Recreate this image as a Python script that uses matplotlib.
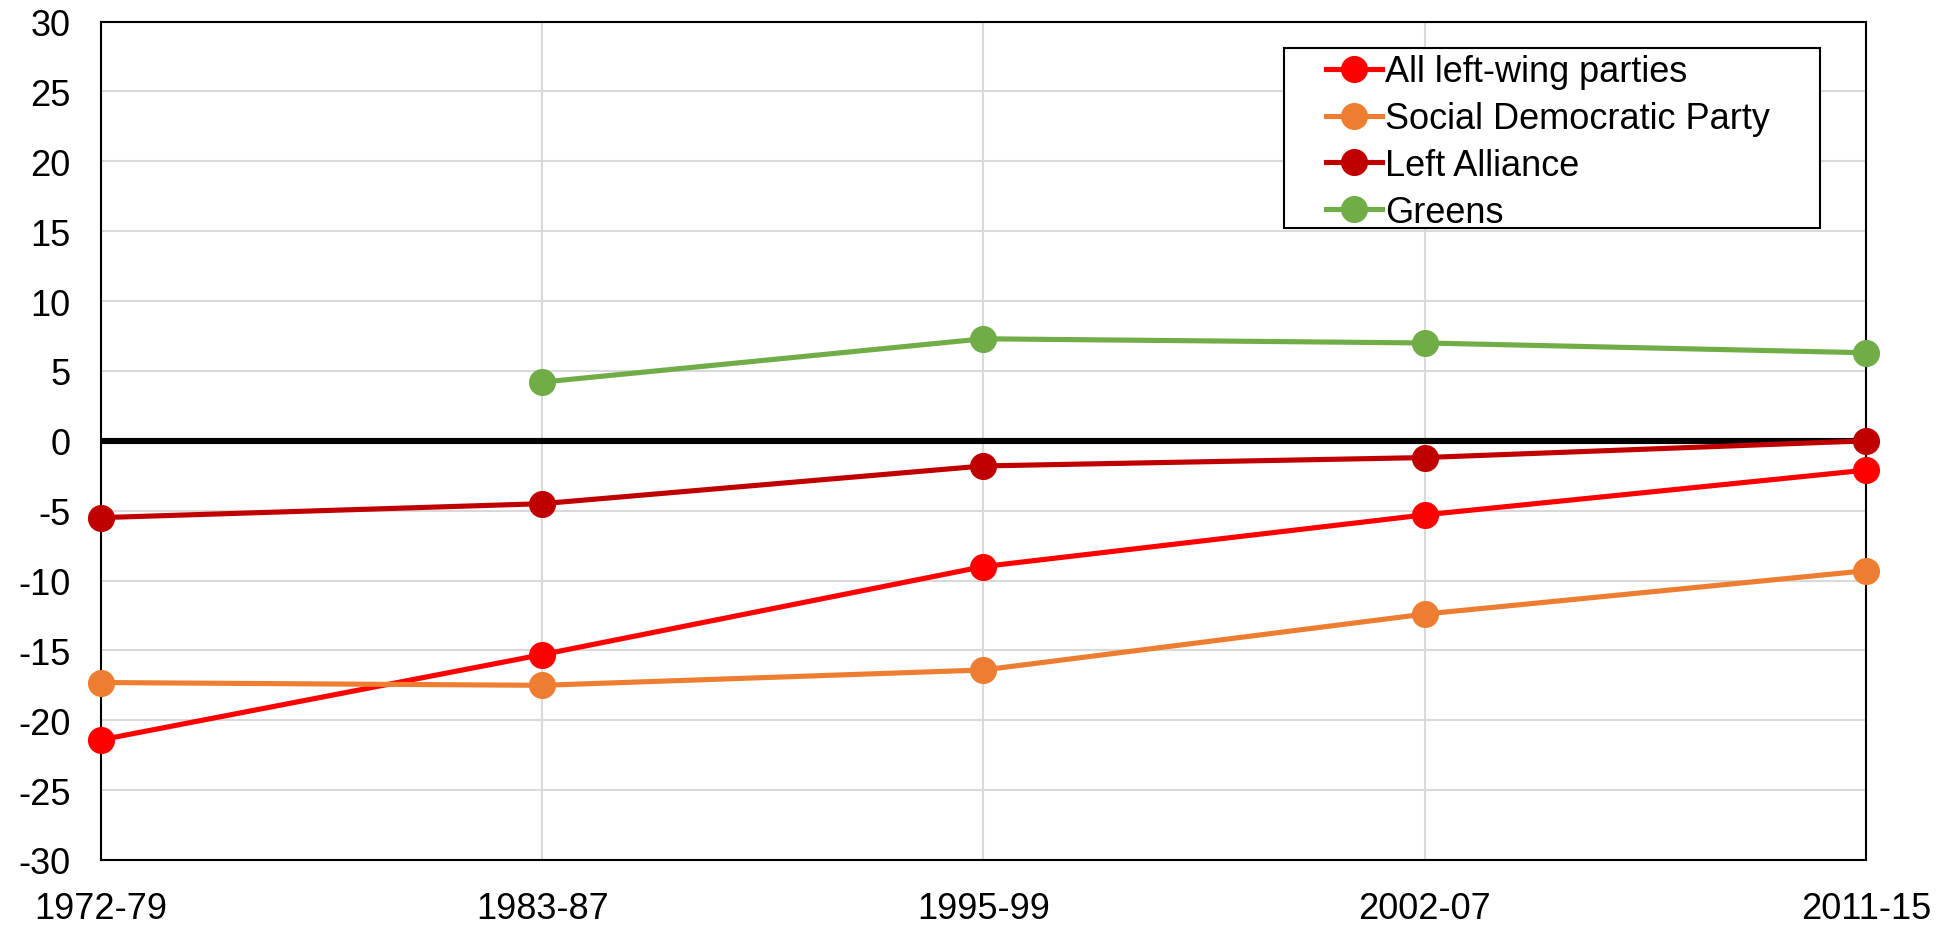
import numpy as np
import matplotlib
matplotlib.use('Agg')
import matplotlib.pyplot as plt
from matplotlib.patches import Rectangle

plt.rcParams['font.family'] = ['Liberation Sans', 'DejaVu Sans']
plt.rcParams['axes.unicode_minus'] = False

# Data
periods = ['1972-79', '1983-87', '1995-99', '2002-07', '2011-15']
all_left = [-21.4, -15.3, -9.0, -5.3, -2.1]
sdp = [-17.3, -17.5, -16.4, -12.4, -9.3]
left_alliance = [-5.5, -4.5, -1.8, -1.2, 0.0]
greens = [np.nan, 4.2, 7.3, 7.0, 6.3]

series = [
    ('All left-wing parties', all_left, '#FF0000'),
    ('Social Democratic Party', sdp, '#ED7D31'),
    ('Left Alliance', left_alliance, '#C00000'),
    ('Greens', greens, '#70AD47'),
]

fig = plt.figure(figsize=(19.57, 9.29), dpi=100)
ax = fig.add_axes([0.0516, 0.0732, 0.9019, 0.9025])

x = np.arange(len(periods))

# zero line
ax.axhline(0, color='black', lw=4.4, zorder=2)

for name, vals, col in series:
    ax.plot(x, vals, color=col, lw=3.7, marker='o', markersize=18.5,
            label=name, zorder=3, clip_on=False)

ax.set_xlim(0, len(periods) - 1)
ax.set_ylim(-30, 30)
ax.set_yticks(np.arange(-30, 31, 5))
ax.set_xticks(x)
ax.set_xticklabels(periods)

ax.grid(True, color='#d9d9d9', lw=1.5, zorder=0)
ax.set_axisbelow(True)
for s in ax.spines.values():
    s.set_color('black')
    s.set_linewidth(1.5)

ax.tick_params(axis='both', length=0, labelsize=26)
ax.tick_params(axis='y', pad=22)
ax.tick_params(axis='x', pad=22)

# legend box drawn separately, legend itself without frame
box = Rectangle((0.670, 0.754), 0.304, 0.2145, transform=ax.transAxes,
                facecolor='white', edgecolor='black', lw=1.5, zorder=5)
ax.add_patch(box)
leg = ax.legend(loc='upper left', bbox_to_anchor=(0.694, 0.961),
                fontsize=26, frameon=False, borderaxespad=0, borderpad=0,
                handlelength=1.55, handletextpad=0.1, labelspacing=0.33)
leg.set_zorder(6)

fig.savefig('out.png', dpi=100)
